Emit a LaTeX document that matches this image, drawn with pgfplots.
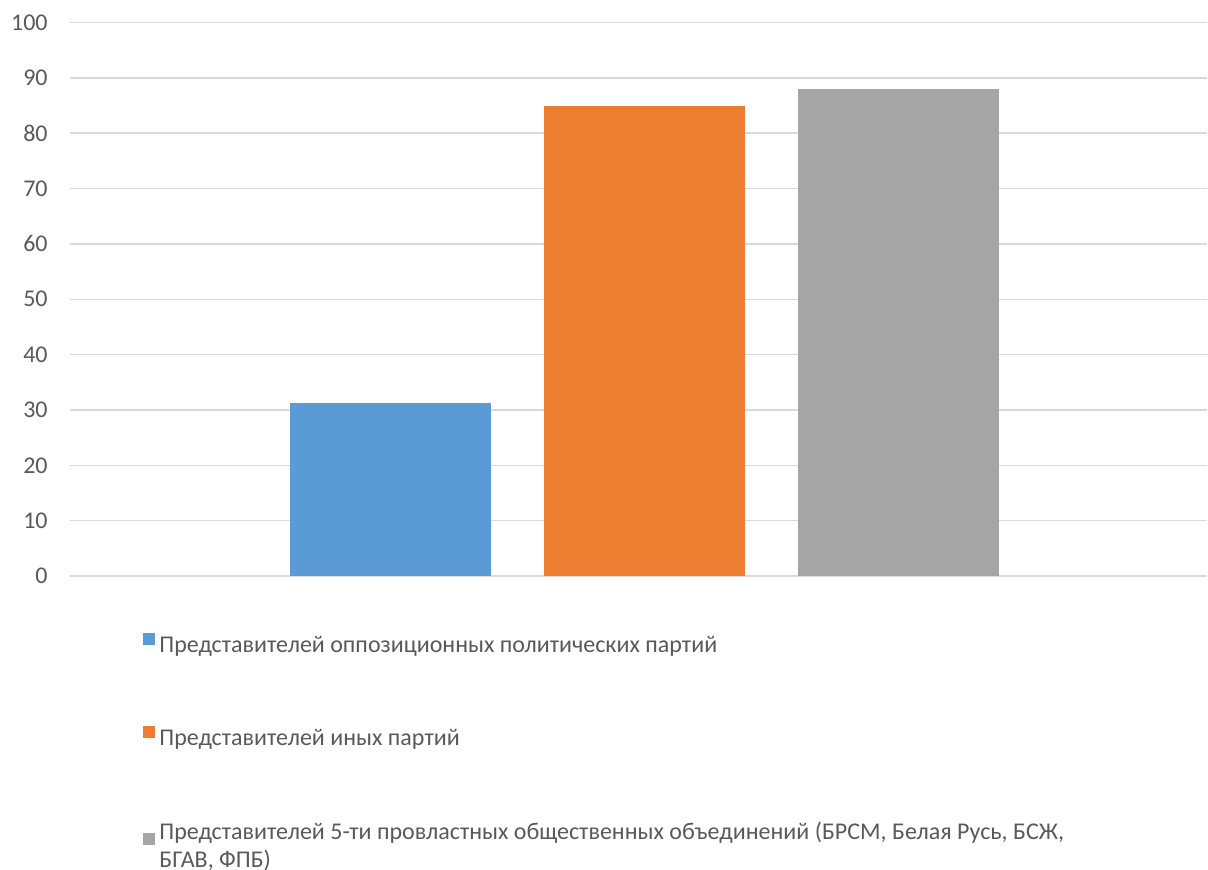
\documentclass[border=0pt]{standalone}
\usepackage{pgfplots}
\pgfplotsset{compat=1.18}
\usepackage{fontspec}
\setmainfont{Carlito}

\definecolor{sblue}{HTML}{5B9BD5}
\definecolor{sorange}{HTML}{ED7D31}
\definecolor{sgray}{HTML}{A5A5A5}
\definecolor{txtgray}{HTML}{595959}
\definecolor{gridgray}{HTML}{D9D9D9}

\begin{document}
\fontsize{12}{14}\selectfont
\begin{tikzpicture}
\begin{axis}[
    name=main,
    scale only axis,
    width=568.5pt, height=276.75pt,
    xmin=-0.2618, xmax=4.2146,
    ymin=0, ymax=100,
    ytick={0,10,...,100},
    xtick=\empty,
    axis line style={draw=none},
    major tick length=0pt,
    ymajorgrids=true,
    grid style={gridgray, line width=0.75pt},
    ybar, bar width=100.5pt, bar shift=0pt,
    /pgf/number format/assume math mode=true,
    yticklabel style={text=txtgray, inner sep=0pt, anchor=east, xshift=-11pt, font=\fontsize{12}{14}\selectfont},
    legend cell align=left,
    legend style={
        draw=none, fill=none, inner sep=0pt,
        at={(0.0642,-0.1005)}, anchor=north west,
        row sep=32.5pt,
        font=\fontsize{12}{14}\selectfont,
        nodes={align=left, text=txtgray},
    },
    legend image code/.code={
        \fill[#1, draw=none] (0pt,0.5pt) rectangle (6pt,6.5pt);
    },
]
\addplot[fill=sblue, draw=none] coordinates {(1,31.2)};
\addlegendentry{Представителей оппозиционных политических партий}
\addplot[fill=sorange, draw=none] coordinates {(2,85)};
\addlegendentry{Представителей иных партий}
\addplot[fill=sgray, draw=none] coordinates {(3,88)};
\addlegendentry{Представителей 5-ти провластных общественных объединений (БРСМ, Белая Русь, БСЖ,\\БГАВ, ФПБ)}
\end{axis}
\pgfresetboundingbox
\useasboundingbox ([xshift=-35pt, yshift=-146.5pt]main.south west) rectangle ++(604pt,434.5pt);
\end{tikzpicture}
\end{document}
